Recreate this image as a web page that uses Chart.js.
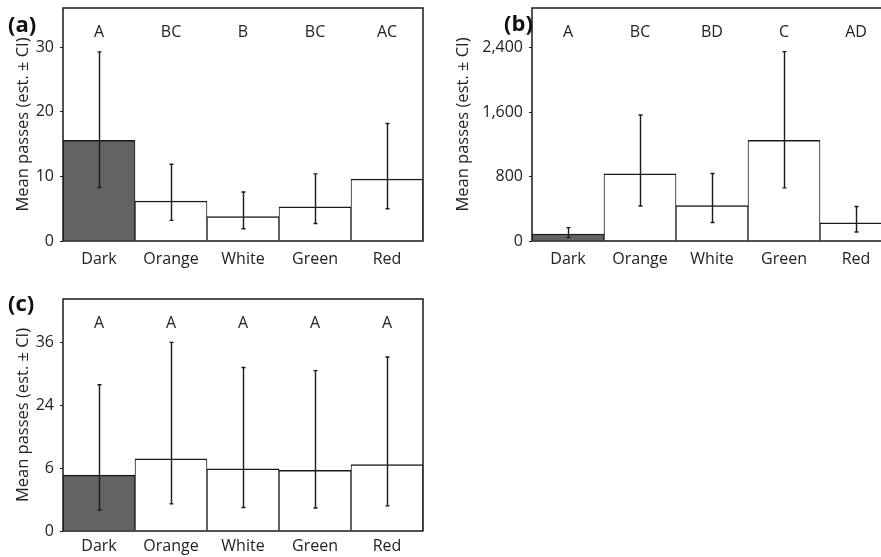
<!DOCTYPE html>
<html>
<head>
  <title>Mean passes by colour</title>
  <script src="https://cdn.jsdelivr.net/npm/chart.js"></script>
  <style>
    html, body {
      margin: 0;
      padding: 0;
      background: #ffffff;
      overflow: hidden;
    }
    body {
      position: relative;
      width: 881px;
      height: 557px;
      font-family: 'Open Sans', sans-serif;
    }
    canvas {
      position: absolute;
    }
    .tag {
      position: absolute;
      font-weight: bold;
      font-size: 22px;
      line-height: 1;
      color: #111;
    }
  </style>
</head>
<body>
  <canvas id="chartA" width="440" height="280" style="left:0;top:0"></canvas>
  <canvas id="chartB" width="469" height="280" style="left:440px;top:0"></canvas>
  <canvas id="chartC" width="440" height="277" style="left:0;top:280px"></canvas>
  <div class="tag" style="left:8px;top:12px">(a)</div>
  <div class="tag" style="left:504px;top:11px">(b)</div>
  <div class="tag" style="left:8px;top:291px">(c)</div>

<script>
  // colour treatments, same for all three panels
  var colours = ['Dark', 'Orange', 'White', 'Green', 'Red'];
  var fills = ['#636363', '#ffffff', '#ffffff', '#ffffff', '#ffffff'];

  // panel (a)
  var meanA = [15.6, 6.2, 3.8, 5.3, 9.6];
  var lowA = [8.3, 3.2, 1.9, 2.7, 5.0];
  var highA = [29.3, 11.9, 7.6, 10.4, 18.2];
  var lettersA = ['A', 'BC', 'B', 'BC', 'AC'];
  var ticksA = [0, 10, 20, 30];

  // panel (b)
  var meanB = [87, 833, 440, 1248, 224];
  var lowB = [42, 435, 229, 659, 112];
  var highB = [166, 1562, 837, 2349, 428];
  var lettersB = ['A', 'BC', 'BD', 'C', 'AD'];
  var ticksB = [0, 800, 1600, 2400];

  // panel (c) - tick at 12 is printed as "6" in the original
  var meanC = [10.7, 13.8, 11.9, 11.6, 12.7];
  var lowC = [4.0, 5.2, 4.5, 4.4, 4.8];
  var highC = [28.0, 36.1, 31.3, 30.7, 33.3];
  var lettersC = ['A', 'A', 'A', 'A', 'A'];
  var ticksC = [0, 12, 24, 36];
  var tickTextC = ['0', '6', '24', '36'];

  var ink = '#1a1a1a';
  var textInk = '#222222';

  function drawPanel(id, mean, low, high, letters, tickVals, tickText, yMax, cfg) {
    var extras = {
      id: 'extras',
      afterDatasetsDraw: function (chart) {
        var ctx = chart.ctx;
        var area = chart.chartArea;
        var xs = chart.scales.x;
        var ys = chart.scales.y;
        ctx.save();
        ctx.strokeStyle = ink;

        // error bars
        ctx.lineWidth = 1.4;
        for (var i = 0; i < mean.length; i++) {
          var cx = Math.round(xs.getPixelForValue(i)) + 0.5;
          var y1 = ys.getPixelForValue(low[i]);
          var y2 = ys.getPixelForValue(high[i]);
          ctx.beginPath();
          ctx.moveTo(cx, y1);
          ctx.lineTo(cx, y2);
          ctx.moveTo(cx - 2, y1);
          ctx.lineTo(cx + 2, y1);
          ctx.moveTo(cx - 2, y2);
          ctx.lineTo(cx + 2, y2);
          ctx.stroke();
        }

        // box around plot
        ctx.lineWidth = 1.5;
        ctx.strokeRect(area.left, area.top, area.right - area.left, area.bottom - area.top);

        // significance letters
        ctx.fillStyle = textInk;
        ctx.font = '16px "Open Sans"';
        ctx.textAlign = 'center';
        ctx.textBaseline = 'middle';
        for (var j = 0; j < letters.length; j++) {
          ctx.fillText(letters[j], xs.getPixelForValue(j), area.top + 24);
        }
        ctx.restore();
      }
    };

    return new Chart(document.getElementById(id), {
      type: 'bar',
      data: {
        labels: colours,
        datasets: [{
          data: mean,
          backgroundColor: fills,
          borderColor: ink,
          borderWidth: { top: 1.5, left: 1, right: 1, bottom: 0 },
          borderSkipped: false,
          barPercentage: 1,
          categoryPercentage: 1
        }]
      },
      options: {
        responsive: false,
        animation: false,
        events: [],
        layout: { padding: { left: 0, right: cfg.padR, top: cfg.padT, bottom: cfg.padB } },
        plugins: {
          legend: { display: false },
          tooltip: { enabled: false }
        },
        scales: {
          x: {
            grid: { display: false },
            border: { display: false },
            ticks: { color: textInk, font: { size: 16, family: 'Open Sans' }, padding: cfg.xPad, maxRotation: 0 },
            afterFit: function (s) {
              s.height = cfg.xH;
              s.paddingLeft = 0;
              s.paddingRight = 0;
            }
          },
          y: {
            min: 0,
            max: yMax,
            grid: { drawOnChartArea: false, tickLength: 3, color: ink },
            border: { display: false },
            afterBuildTicks: function (s) {
              s.ticks = tickVals.map(function (v) { return { value: v }; });
            },
            ticks: {
              color: textInk,
              font: { size: 16, family: 'Open Sans' },
              padding: 6,
              callback: function (v, i) {
                return tickText ? tickText[i] : v.toLocaleString('en-US');
              }
            },
            title: {
              display: true,
              text: 'Mean passes (est. \u00b1 CI)',
              color: textInk,
              font: { size: 16.5, family: 'Open Sans' },
              padding: { top: 13, bottom: 0 }
            },
            afterFit: function (s) {
              s.width = cfg.yW;
              s.paddingTop = 0;
              s.paddingBottom = 0;
            }
          }
        }
      },
      plugins: [extras]
    });
  }

  drawPanel('chartA', meanA, lowA, highA, lettersA, ticksA, null, 36.1,
    { yW: 63, padR: 17, padT: 8, padB: 3, xH: 36, xPad: 1 });
  drawPanel('chartB', meanB, lowB, highB, lettersB, ticksB, null, 2890,
    { yW: 92, padR: 17, padT: 8, padB: 3, xH: 36, xPad: 1 });
  drawPanel('chartC', meanC, lowC, highC, lettersC, ticksC, tickTextC, 44.4,
    { yW: 63, padR: 17, padT: 19, padB: 0, xH: 26, xPad: -2 });
</script>
</body>
</html>
